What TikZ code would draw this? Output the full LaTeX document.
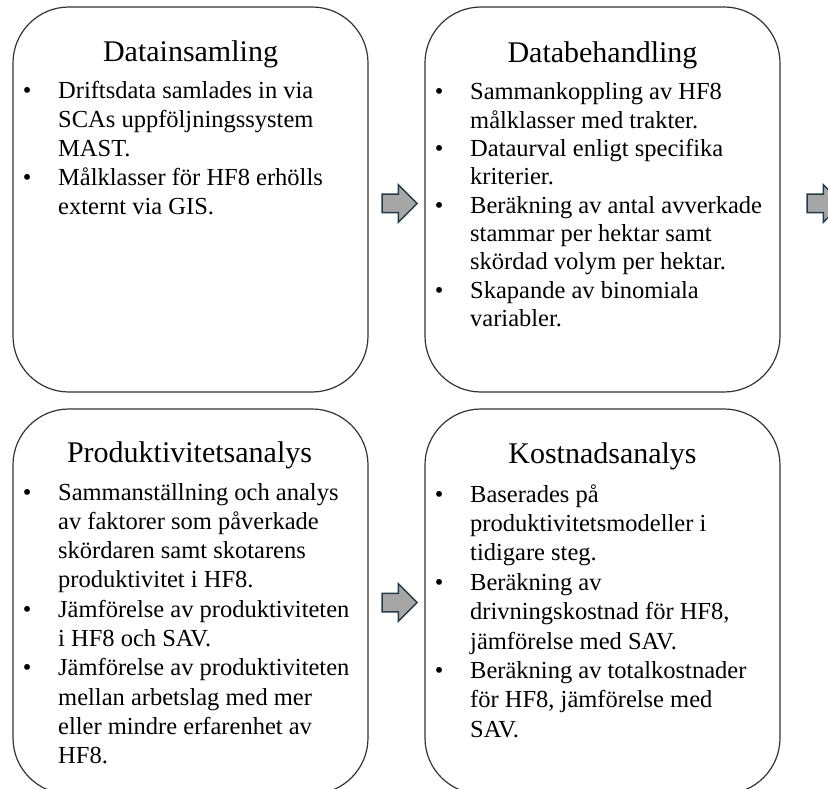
\documentclass[tikz,border=0pt]{standalone}
\usepackage{fontspec}
\setmainfont{Liberation Serif}
\usetikzlibrary{shapes.arrows}

\definecolor{arrowedge}{RGB}{38,58,72}

\tikzset{
  stagebox/.style={draw=black!80, line width=1.2pt, rounded corners=56pt,
    minimum width=355pt, minimum height=385pt, inner sep=0pt},
  stagetitle/.style={anchor=base, inner sep=0pt, font=\fontsize{30}{36}\selectfont},
  stagelist/.style={anchor=base west, inner sep=0pt, align=left,
    font=\fontsize{24.5}{#1}\selectfont},
  stagelist/.default=29,
  flowarrow/.style={single arrow, draw=arrowedge, fill=black!35, line width=1.5pt,
    inner sep=0pt, minimum height=35pt, single arrow head extend=9.5pt},
}

\begin{document}
\begin{tikzpicture}[x=1pt,y=-1pt]
  \useasboundingbox (0,0) rectangle (828,789);

  % the four stages
  \node[stagebox] (insamling) at (190.5,199.5) {};
  \node[stagebox] (behandling) at (602.5,199.5) {};
  \node[stagebox] (produktivitet) at (190.5,601.5) {};
  \node[stagebox] (kostnad) at (602.5,601.5) {};

  \node[stagetitle] (insamlingTitle) at (190.5,62) {Datainsamling};
  \node[stagetitle] (behandlingTitle) at (602.5,63) {Databehandling};
  \node[stagetitle] (produktivitetTitle) at (189.5,462) {Produktivitetsanalys};
  \node[stagetitle] (kostnadTitle) at (602.5,463) {Kostnadsanalys};

  \node[stagelist] (insamlingList) at (22.7,99) {\begin{tabular}[t]{@{}p{35.3pt}@{}l@{}}
    \textbullet & Driftsdata samlades in via\\
                & SCAs uppföljningssystem\\
                & MAST.\\
    \textbullet & Målklasser för HF8 erhölls\\
                & externt via GIS.
  \end{tabular}};

  \node[stagelist=28.3] (behandlingList) at (434.7,100) {\begin{tabular}[t]{@{}p{35.3pt}@{}l@{}}
    \textbullet & Sammankoppling av HF8\\
                & målklasser med trakter.\\
    \textbullet & Dataurval enligt specifika\\
                & kriterier.\\
    \textbullet & Beräkning av antal avverkade\\
                & stammar per hektar samt\\
                & skördad volym per hektar.\\
    \textbullet & Skapande av binomiala\\
                & variabler.
  \end{tabular}};

  \node[stagelist=29.3] (produktivitetList) at (22.7,500) {\begin{tabular}[t]{@{}p{35.3pt}@{}l@{}}
    \textbullet & Sammanställning och analys\\
                & av faktorer som påverkade\\
                & skördaren samt skotarens\\
                & produktivitet i HF8.\\
    \textbullet & Jämförelse av produktiviteten\\
                & i HF8 och SAV.\\
    \textbullet & Jämförelse av produktiviteten\\
                & mellan arbetslag med mer\\
                & eller mindre erfarenhet av\\
                & HF8.
  \end{tabular}};

  \node[stagelist=29.4] (kostnadList) at (434.7,502) {\begin{tabular}[t]{@{}p{35.3pt}@{}l@{}}
    \textbullet & Baserades på\\
                & produktivitetsmodeller i\\
                & tidigare steg.\\
    \textbullet & Beräkning av\\
                & drivningskostnad för HF8,\\
                & jämförelse med SAV.\\
    \textbullet & Beräkning av totalkostnader\\
                & för HF8, jämförelse med\\
                & SAV.
  \end{tabular}};

  % block arrows between the stages
  \node[flowarrow] (arrowTop) at (395,203.5) {\rule{0pt}{17pt}};
  \node[flowarrow] (arrowRight) at (820,203.5) {\rule{0pt}{17pt}};
  \node[flowarrow] (arrowBottom) at (395,602.5) {\rule{0pt}{17pt}};
\end{tikzpicture}
\end{document}
